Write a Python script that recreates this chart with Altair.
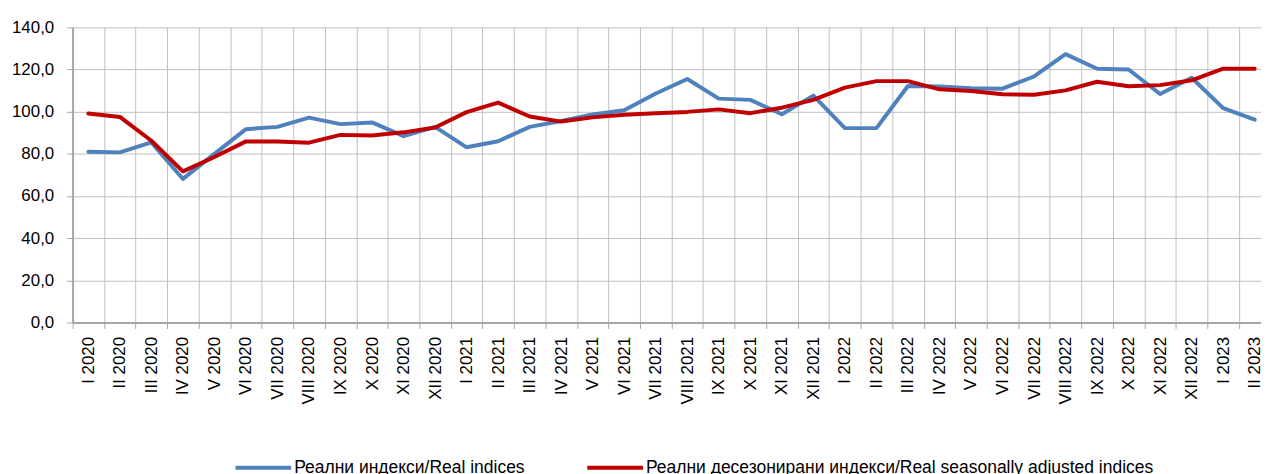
import altair as alt
import pandas as pd

categories = [
    "I 2020", "II 2020", "III 2020", "IV 2020", "V 2020", "VI 2020", "VII 2020", "VIII 2020",
    "IX 2020", "X 2020", "XI 2020", "XII 2020",
    "I 2021", "II 2021", "III 2021", "IV 2021", "V 2021", "VI 2021", "VII 2021", "VIII 2021",
    "IX 2021", "X 2021", "XI 2021", "XII 2021",
    "I 2022", "II 2022", "III 2022", "IV 2022", "V 2022", "VI 2022", "VII 2022", "VIII 2022",
    "IX 2022", "X 2022", "XI 2022", "XII 2022",
    "I 2023", "II 2023",
]

real_indices = [
    81.0, 80.7, 85.4, 68.1, 80.0, 91.7, 92.8, 97.2, 94.1, 94.9, 88.4, 92.8,
    83.1, 86.0, 92.8, 95.6, 98.7, 100.7, 108.6, 115.5, 106.2, 105.6, 98.8, 107.6,
    92.2, 92.2, 112.2, 111.9, 111.1, 110.9, 116.7, 127.3, 120.4, 120.0, 108.4, 116.1,
    101.7, 96.2,
]

seasonally_adjusted = [
    99.1, 97.5, 86.2, 71.7, 78.5, 85.9, 85.9, 85.3, 89.0, 88.7, 90.2, 92.5,
    99.8, 104.3, 97.7, 95.3, 97.3, 98.5, 99.3, 99.9, 101.1, 99.3, 101.9, 105.6,
    111.4, 114.5, 114.5, 110.6, 109.8, 108.3, 108.0, 110.1, 114.2, 112.1, 112.6, 114.9,
    120.4, 120.4,
]

series_names = [
    "Реални индекси/Real indices",
    "Реални десезонирани индекси/Real seasonally adjusted indices",
]
series_colors = ["#4f81bd", "#c00000"]

rows = []
for name, vals in zip(series_names, [real_indices, seasonally_adjusted]):
    for i, (c, v) in enumerate(zip(categories, vals)):
        rows.append({"period": c, "pos": i + 0.5, "value": v, "series": name})
df = pd.DataFrame(rows)

FONT = "Liberation Sans"
n = len(categories)
boundaries = list(range(n))
centers = [i + 0.5 for i in range(n)]
label_array = "[" + ",".join("'" + c + "'" for c in categories) + "]"

# the reference is cut at its right edge, inside the last category
x_scale = alt.Scale(domain=[0, 37.7], nice=False, zero=False)
y_scale = alt.Scale(domain=[0, 140], nice=False)

y_enc = alt.Y(
    "value:Q",
    scale=y_scale,
    axis=alt.Axis(
        title=None,
        values=[0, 20, 40, 60, 80, 100, 120, 140],
        labelExpr="replace(format(datum.value, '.1f'), '.', ',')",
        labelFont=FONT,
        labelFontSize=17,
        labelColor="#000000",
        labelPadding=13,
        grid=True,
        gridColor="#c0c0c0",
        gridWidth=1,
        tickColor="#a6a6a6",
        tickSize=6,
        domainColor="#a6a6a6",
        domainWidth=2,
    ),
)

color_enc = alt.Color(
    "series:N",
    sort=series_names,
    scale=alt.Scale(domain=series_names, range=series_colors),
    legend=alt.Legend(
        title=None,
        orient="none",
        legendX=162,
        legendY=413,
        direction="horizontal",
        symbolType="stroke",
        symbolSize=3136,
        symbolStrokeWidth=4,
        labelFont=FONT,
        labelFontSize=17.6,
        labelColor="#000000",
        labelOffset=1,
        columnPadding=54,
        padding=0,
        labelLimit=1000,
    ),
)

base = alt.Chart(df).mark_line(strokeWidth=4, strokeJoin="round", strokeCap="round")

grid_layer = base.transform_filter(alt.datum.series == series_names[0]).encode(
    x=alt.X(
        "pos:Q",
        scale=x_scale,
        axis=alt.Axis(
            title=None,
            orient="bottom",
            values=boundaries,
            labels=False,
            grid=True,
            gridColor="#c0c0c0",
            gridWidth=1,
            ticks=True,
            tickColor="#a6a6a6",
            tickSize=6,
            domain=True,
            domainColor="#a6a6a6",
            domainWidth=2,
        ),
    ),
    y=y_enc,
    color=color_enc,
)

label_layer = base.transform_filter(alt.datum.series == series_names[1]).encode(
    x=alt.X(
        "pos:Q",
        scale=x_scale,
        axis=alt.Axis(
            title=None,
            orient="bottom",
            values=centers,
            labelExpr=label_array + "[floor(datum.value)]",
            labelAngle=-90,
            labelAlign="right",
            labelBaseline="middle",
            labelFont=FONT,
            labelFontSize=17,
            labelColor="#000000",
            labelPadding=14,
            labelOverlap=False,
            labelBound=False,
            labelFlush=False,
            grid=False,
            ticks=False,
            tickSize=0,
            domain=False,
        ),
    ),
    y=y_enc,
    color=color_enc,
)

chart = (
    alt.layer(grid_layer, label_layer)
    .resolve_scale(x="shared", y="shared", color="shared")
    .resolve_axis(x="independent")
    .properties(
        width=1196,
        height=297,
        autosize=alt.AutoSizeParams(type="none"),
        padding={"left": 65, "top": 18, "right": 0, "bottom": 151},
    )
    .configure_view(strokeWidth=0)
)

chart.save("out.html", embed_options={"renderer": "svg", "actions": False})
